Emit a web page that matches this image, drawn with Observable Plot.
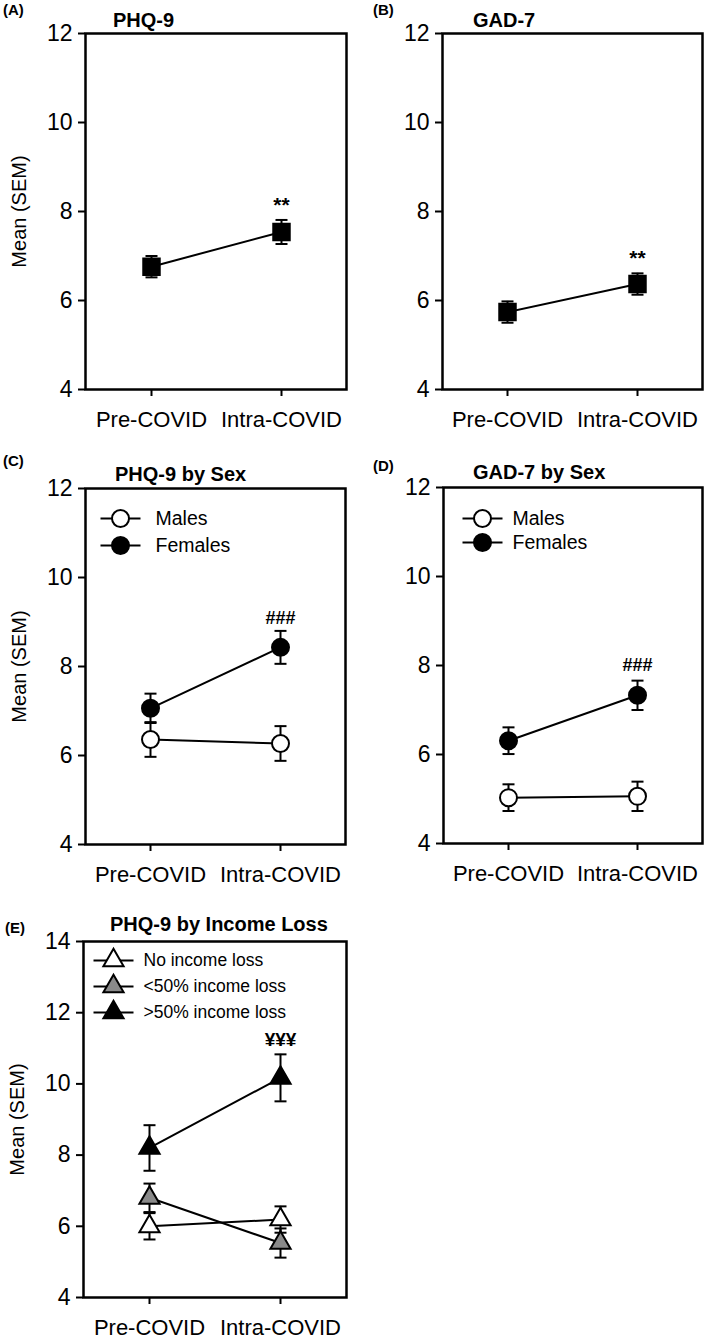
<!DOCTYPE html>
<html>
<head>
<meta charset="utf-8">
<script src="https://cdn.jsdelivr.net/npm/d3@7"></script>
<script src="https://cdn.jsdelivr.net/npm/@observablehq/plot@0.6"></script>
<style>
  body { margin: 0; background: #fff; }
  #root { position: relative; width: 709px; height: 1344px; font-family: "Liberation Sans", Arial, sans-serif; color: #000; }
  .panel { position: absolute; }
  .plabel { position: absolute; font-weight: bold; font-size: 15px; line-height: 1; white-space: nowrap; }
  .title { position: absolute; font-weight: bold; font-size: 20px; line-height: 1; white-space: nowrap; }
</style>
</head>
<body>
<div id="root"></div>
<script>
// ---------- data ----------
const timepoints = ["Pre-COVID", "Intra-COVID"];
const yTicksA = [4, 6, 8, 10, 12];
const yTicksE = [4, 6, 8, 10, 12, 14];

// (A) PHQ-9
const phqMean = [6.76, 7.54];
const phqSem = [0.24, 0.27];
// (B) GAD-7
const gadMean = [5.74, 6.37];
const gadSem = [0.24, 0.24];

// (C) PHQ-9 by sex
const sexGroups = ["Males", "Females"];
const phqMalesMean = [6.36, 6.27];
const phqMalesSem = [0.39, 0.39];
const phqFemalesMean = [7.06, 8.43];
const phqFemalesSem = [0.33, 0.37];
// (D) GAD-7 by sex
const gadMalesMean = [5.03, 5.06];
const gadMalesSem = [0.30, 0.33];
const gadFemalesMean = [6.31, 7.33];
const gadFemalesSem = [0.30, 0.33];

// (E) PHQ-9 by income loss
const incomeGroups = ["No income loss", "<50% income loss", ">50% income loss"];
const incNoneMean = [6.00, 6.19];
const incNoneSem = [0.37, 0.37];
const incUnderMean = [6.80, 5.53];
const incUnderSem = [0.40, 0.41];
const incOverMean = [8.20, 10.17];
const incOverSem = [0.64, 0.66];

const panelLetters = ["(A)", "(B)", "(C)", "(D)", "(E)"];
const panelTitles = ["PHQ-9", "GAD-7", "PHQ-9 by Sex", "GAD-7 by Sex", "PHQ-9 by Income Loss"];
const annotLabels = ["**", "**", "###", "###", "¥¥¥"];
const yAxisTitle = "Mean (SEM)";

// ---------- helpers ----------
const hline = {
  draw(ctx, size) {
    const r = Math.sqrt(size / Math.PI);
    ctx.moveTo(-r, 0);
    ctx.lineTo(r, 0);
  }
};

function toRows(series) {
  return series.flatMap(s => timepoints.map((t, i) => ({
    group: s.name, time: t, mean: s.means[i],
    lo: s.means[i] - s.sems[i], hi: s.means[i] + s.sems[i], fill: s.fill
  })));
}

function panel(cfg) {
  const rows = toRows(cfg.series);
  const marks = [
    Plot.ruleX(rows, {x: "time", y1: "lo", y2: "hi", stroke: "black", strokeWidth: 2}),
    Plot.line(rows, {x: "time", y: "mean", z: "group", stroke: "black", strokeWidth: 2}),
    Plot.dot(rows, {x: "time", y: "lo", symbol: hline, r: 6, stroke: "black", strokeWidth: 2}),
    Plot.dot(rows, {x: "time", y: "hi", symbol: hline, r: 6, stroke: "black", strokeWidth: 2}),
    Plot.dot(rows, {x: "time", y: "mean", symbol: cfg.symbol, r: cfg.r, fill: "fill", stroke: "black", strokeWidth: 2}),
    Plot.frame({stroke: "black", strokeWidth: 2.5}),
    Plot.axisY({ticks: cfg.yTicks, tickSize: 7, tickPadding: 6, strokeWidth: 2, label: null, fontSize: 23}),
    Plot.axisX({tickSize: 7, tickPadding: 15, strokeWidth: 2, label: null, fontSize: 22}),
    Plot.text(rows.filter(d => d.group === cfg.annotGroup && d.time === timepoints[1]), {
      x: "time", y: "hi", text: () => cfg.annot, dy: cfg.annotDy, fontSize: cfg.annotSize,
      fontWeight: "bold", lineAnchor: "middle"
    })
  ];
  if (cfg.yLabel) {
    marks.push(Plot.text([cfg.yLabel], {frameAnchor: "left", dx: -66, rotate: -90, text: d => d,
      textAnchor: "middle", lineAnchor: "middle", fontSize: 20}));
  }
  if (cfg.legend) {
    const L = cfg.legend;
    cfg.series.forEach((s, i) => {
      const dy = L.y0 + i * L.step;
      marks.push(
        Plot.dot([s], {frameAnchor: "top-left", dx: L.mx, dy, symbol: hline, r: 20, stroke: "black", strokeWidth: 2}),
        Plot.dot([s], {frameAnchor: "top-left", dx: L.mx, dy, symbol: cfg.symbol, r: cfg.r, fill: s.fill, stroke: "black", strokeWidth: 2}),
        Plot.text([s], {frameAnchor: "top-left", dx: L.tx, dy, text: d => d.name, textAnchor: "start",
          lineAnchor: "middle", fontSize: L.fs})
      );
    });
  }
  return Plot.plot({
    width: cfg.width, height: 435,
    marginLeft: cfg.ml, marginRight: cfg.mr, marginTop: 33, marginBottom: 46,
    style: {fontFamily: "'Liberation Sans', Arial, sans-serif", fontSize: "20px", color: "#000",
      background: "transparent", overflow: "visible"},
    x: {type: "point", domain: timepoints, padding: 0.5, label: null},
    y: {domain: [cfg.yTicks[0], cfg.yTicks[cfg.yTicks.length - 1]], label: null},
    color: {type: "identity"},
    marks
  });
}

const root = document.getElementById("root");
function place(node, left, top, width) {
  const d = document.createElement("div");
  d.className = "panel";
  d.style.left = left + "px"; d.style.top = top + "px"; d.style.width = width + "px";
  d.appendChild(node);
  root.appendChild(d);
}
function label(cls, text, left, top) {
  const d = document.createElement("div");
  d.className = cls; d.textContent = text;
  d.style.left = left + "px"; d.style.top = top + "px";
  root.appendChild(d);
}

// ---------- panels ----------
place(panel({
  width: 355, ml: 85, mr: 9, yTicks: yTicksA, yLabel: yAxisTitle,
  series: [{name: "PHQ-9", means: phqMean, sems: phqSem, fill: "black"}],
  symbol: "square", r: 9.3, annot: annotLabels[0], annotGroup: "PHQ-9", annotDy: -15, annotSize: 21
}), 0, 0, 355);

place(panel({
  width: 354, ml: 87, mr: 7, yTicks: yTicksA, yLabel: null,
  series: [{name: "GAD-7", means: gadMean, sems: gadSem, fill: "black"}],
  symbol: "square", r: 9.3, annot: annotLabels[1], annotGroup: "GAD-7", annotDy: -15, annotSize: 21
}), 355, 0, 354);

place(panel({
  width: 355, ml: 85, mr: 10, yTicks: yTicksA, yLabel: yAxisTitle,
  series: [
    {name: sexGroups[0], means: phqMalesMean, sems: phqMalesSem, fill: "white"},
    {name: sexGroups[1], means: phqFemalesMean, sems: phqFemalesSem, fill: "black"}
  ],
  symbol: "circle", r: 8.5, annot: annotLabels[2], annotGroup: "Females", annotDy: -13, annotSize: 18,
  legend: {y0: 30, step: 27, mx: 35, tx: 70, fs: 19.5}
}), 0, 455, 355);

place(panel({
  width: 354, ml: 88, mr: 7, yTicks: yTicksA, yLabel: null,
  series: [
    {name: sexGroups[0], means: gadMalesMean, sems: gadMalesSem, fill: "white"},
    {name: sexGroups[1], means: gadFemalesMean, sems: gadFemalesSem, fill: "black"}
  ],
  symbol: "circle", r: 8.5, annot: annotLabels[3], annotGroup: "Females", annotDy: -15, annotSize: 18,
  legend: {y0: 31, step: 24, mx: 39, tx: 69, fs: 19.5}
}), 355, 454, 354);

place(panel({
  width: 355, ml: 83, mr: 9, yTicks: yTicksE, yLabel: yAxisTitle,
  series: [
    {name: incomeGroups[0], means: incNoneMean, sems: incNoneSem, fill: "white"},
    {name: incomeGroups[1], means: incUnderMean, sems: incUnderSem, fill: "#8a8a8a"},
    {name: incomeGroups[2], means: incOverMean, sems: incOverSem, fill: "black"}
  ],
  symbol: "triangle", r: 7.5, annot: annotLabels[4], annotGroup: incomeGroups[2], annotDy: -14, annotSize: 19,
  legend: {y0: 19, step: 26, mx: 30, tx: 60, fs: 17.5}
}), 0, 908, 355);

// ---------- titles and panel letters ----------
label("plabel", panelLetters[0], 3, 2);
label("plabel", panelLetters[1], 373, 2);
label("plabel", panelLetters[2], 3, 453);
label("plabel", panelLetters[3], 373, 458);
label("plabel", panelLetters[4], 5, 920);

label("title", panelTitles[0], 113, 10);
label("title", panelTitles[1], 473, 10);
label("title", panelTitles[2], 115, 464);
label("title", panelTitles[3], 473, 462);
label("title", panelTitles[4], 110, 914);
</script>
</body>
</html>
